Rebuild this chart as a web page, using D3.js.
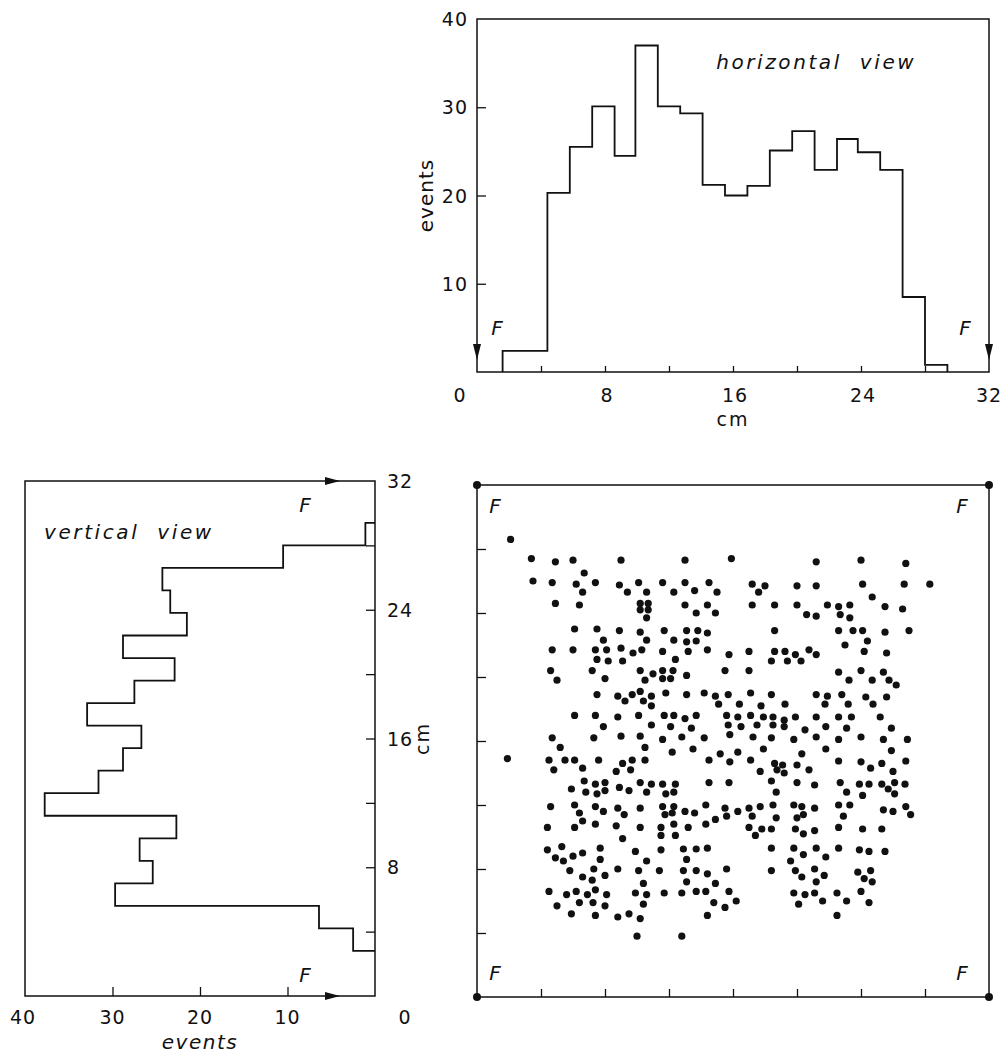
<!DOCTYPE html>
<html>
<head>
<meta charset="utf-8">
<script src="https://cdn.jsdelivr.net/npm/d3@7"></script>
<style>
  body { margin: 0; background: #fff; }
  svg text { font-family: "DejaVu Sans", sans-serif; fill: #111; }
</style>
</head>
<body>
<div id="chart"></div>
<script>
// horizontal view: bin edges (cm) and events per bin
var hEdges = [1.6, 3.0, 4.4, 5.8, 7.2, 8.6, 9.9, 11.3, 12.7, 14.1, 15.5, 16.9, 18.3, 19.7, 21.1, 22.5, 23.8, 25.2, 26.6, 28.0, 29.4];
var hCounts = [2.4, 2.4, 20.3, 25.5, 30.1, 24.5, 37.0, 30.1, 29.3, 21.2, 20.0, 21.1, 25.1, 27.3, 22.9, 26.4, 24.9, 22.9, 8.5, 0.8];

// vertical view: bin edges (cm, bottom to top) and events per bin
var vEdges = [2.8, 4.2, 5.6, 7.0, 8.4, 9.8, 11.2, 12.6, 14.0, 15.4, 16.8, 18.2, 19.6, 21.0, 22.4, 23.8, 25.2, 26.6, 28.0, 29.4];
var vCounts = [2.5, 6.4, 29.7, 25.4, 26.9, 22.7, 37.75, 31.6, 28.8, 26.7, 32.9, 27.5, 22.9, 28.8, 21.5, 23.4, 24.3, 10.5, 1.1];

// tick values / labels
var cmLabels = [0, 8, 16, 24, 32];
var cmMinor = [4, 8, 12, 16, 20, 24, 28];
var eventLabels = [10, 20, 30, 40];
var vEventLabels = [40, 30, 20, 10, 0];
var vEventTicks = [10, 20, 30];

// event positions in the chamber, [x cm, y cm]
var events = [
  [2.1,28.6],[3.4,27.4],[4.9,27.2],[6.0,27.3],[9.0,27.3],[6.7,26.5],[3.5,26.0],[4.7,25.9],[6.2,25.8],[7.4,25.9],[8.9,25.75],[10.1,25.9],[6.6,25.3],[9.4,25.3],[10.6,25.3],[4.9,24.6],[6.4,24.5],[10.2,24.6],[10.7,24.6],[10.2,24.2],[10.7,24.2],[10.6,23.7],[6.1,23.0],[7.5,23.0],[8.9,22.9],[10.2,22.8],[10.6,22.3],[7.9,22.3],[4.7,21.7],[6.0,21.7],[7.4,21.7],[8.1,21.7],[9.0,21.8],[9.75,21.5],[10.3,21.7],[7.5,21.1],[8.2,21.0],[9.1,21.0],[4.6,20.4],[5.0,19.8],[7.2,20.4],[8.0,19.9],[10.2,20.4],[10.5,19.8],[7.5,18.9],[8.8,18.8],[9.25,18.5],[9.7,18.9],[10.2,19.1],[10.4,18.5],[6.1,17.6],[7.4,17.6],[8.8,17.5],[10.1,17.6],[7.9,16.9],[4.7,16.2],[7.3,16.2],[9.0,16.3],[10.2,16.3],
  [13.0,27.3],[15.9,27.4],[21.2,27.2],[11.6,25.9],[13.0,25.9],[14.5,25.9],[17.2,25.8],[18.0,25.7],[20.0,25.7],[21.2,25.7],[12.3,25.3],[13.6,25.4],[15.0,25.3],[17.6,25.3],[13.0,24.5],[14.4,24.5],[17.2,24.5],[18.6,24.5],[20.0,24.5],[13.7,24.0],[14.9,24.0],[20.6,23.9],[21.2,23.8],[11.7,22.9],[13.1,22.9],[13.8,22.9],[14.4,22.75],[18.6,22.9],[12.3,22.3],[13.1,22.2],[13.7,22.25],[11.6,21.6],[13.2,21.6],[14.4,21.7],[15.75,21.4],[17.0,21.6],[18.6,21.6],[19.25,21.6],[19.9,21.4],[20.75,21.7],[21.2,21.4],[12.4,21.1],[18.4,21.0],[19.4,21.0],[20.25,21.0],[11.0,20.2],[11.6,20.4],[12.25,20.4],[11.6,19.9],[12.1,19.9],[13.1,20.1],[15.5,20.4],[17.0,20.4],[10.9,18.8],[10.9,18.2],[11.8,19.0],[13.1,18.9],[14.2,19.0],[14.9,18.8],[15.7,18.9],[17.1,19.0],[18.4,18.9],[15.1,18.3],[16.4,18.3],[17.75,18.2],[19.25,18.3],[21.2,18.9],[11.7,17.6],[12.3,17.6],[13.0,17.4],[13.7,17.6],[15.6,17.6],[16.3,17.5],[17.1,17.6],[17.9,17.5],[18.5,17.5],[19.2,17.3],[19.9,17.5],[21.2,17.5],[10.9,17.0],[12.1,16.9],[13.4,16.8],[15.7,17.0],[16.5,16.9],[17.5,17.0],[18.5,17.0],[19.2,16.9],[20.5,16.7],[11.6,16.1],[12.8,16.25],[14.2,16.2],[15.8,16.4],[17.25,16.25],[18.4,16.2],[19.8,16.1],[21.2,16.25],
  [24.0,27.3],[26.8,27.1],[24.1,25.8],[26.7,25.8],[28.3,25.8],[24.7,25.0],[21.9,24.5],[22.6,24.4],[23.3,24.5],[22.7,23.9],[23.3,23.7],[25.5,24.4],[26.6,24.25],[22.6,22.9],[23.5,22.9],[24.1,22.9],[25.5,22.8],[27.0,22.9],[24.4,22.25],[23.0,22.0],[24.2,21.6],[25.6,21.5],[22.6,20.3],[23.25,19.8],[24.0,20.4],[24.7,19.8],[25.4,20.3],[25.75,19.8],[26.2,19.5],[21.9,18.8],[21.75,18.3],[22.8,18.9],[23.2,18.3],[24.3,18.75],[24.75,18.3],[25.6,18.75],[21.8,16.9],[22.6,17.5],[23.4,17.5],[23.1,16.8],[25.2,17.5],[25.9,16.8],[22.6,16.1],[24.0,16.25],[25.4,16.1],[26.9,16.1],
  [5.2,15.6],[10.5,15.6],[1.9,14.9],[4.5,14.8],[5.5,14.8],[6.1,14.8],[7.6,14.8],[9.1,14.6],[9.7,14.8],[10.5,14.8],[4.8,14.2],[6.6,14.3],[8.7,14.1],[9.6,14.2],[6.7,13.5],[7.4,13.3],[8.0,13.4],[5.9,13.0],[6.8,12.8],[7.5,12.7],[8.0,12.9],[8.9,13.1],[9.5,12.9],[10.2,13.4],[10.6,12.8],[4.6,11.9],[6.1,12.0],[6.4,11.5],[7.4,11.9],[7.9,11.6],[8.8,11.8],[9.2,11.4],[10.2,11.8],[4.4,10.6],[6.1,10.6],[6.6,11.0],[7.4,10.8],[8.7,10.7],[10.2,10.6],[9.1,9.9],[4.4,9.2],[5.3,9.4],[4.9,8.7],[5.4,8.5],[6.0,8.8],[6.6,9.0],[7.7,9.3],[7.7,8.6],[9.9,9.1],[10.6,8.5],[5.8,7.9],[7.3,8.0],[8.8,8.0],[10.1,7.9],[6.6,7.5],[7.2,7.3],[8.0,7.6],[10.4,7.1],[4.5,6.6],[5.6,6.4],[6.2,6.6],[6.9,6.4],[7.4,6.7],[8.1,6.4],[9.9,6.5],[10.6,6.4],[5.0,5.7],[6.4,5.9],[7.25,5.9],[8.0,5.7],[10.4,5.8],[5.9,5.2],[7.4,5.1],[8.8,5.0],[9.5,5.2],[10.2,4.9],[10.0,3.8],
  [12.2,15.3],[13.5,15.5],[15.2,15.2],[16.3,15.3],[17.9,15.5],[20.3,15.2],[14.5,14.8],[15.8,14.7],[17.1,14.8],[17.7,14.1],[18.6,14.6],[19.1,14.5],[18.75,14.2],[19.2,14.0],[20.0,14.5],[20.75,14.2],[10.9,13.3],[11.6,13.3],[12.4,13.3],[11.8,12.7],[12.3,12.8],[14.5,13.4],[15.75,13.4],[18.4,13.5],[18.7,12.8],[20.0,13.4],[21.1,13.25],[11.6,11.9],[12.3,11.9],[11.75,11.4],[12.2,11.5],[13.0,11.6],[13.6,11.5],[14.3,12.0],[14.9,11.1],[15.5,11.8],[15.6,11.3],[16.3,11.6],[17.0,11.8],[17.2,11.3],[17.7,11.9],[18.5,12.0],[18.7,11.2],[19.8,12.0],[20.3,11.9],[20.0,11.2],[20.4,11.4],[21.1,11.8],[11.5,10.6],[11.5,10.1],[12.3,10.8],[12.4,10.1],[13.2,10.6],[14.3,10.8],[17.0,10.6],[17.8,10.5],[17.4,10.1],[18.4,10.5],[19.9,10.5],[20.4,10.2],[21.1,10.4],[11.5,9.2],[12.9,9.25],[13.7,9.25],[14.4,9.3],[13.1,8.6],[18.4,9.3],[19.8,9.3],[19.6,8.5],[20.4,8.9],[21.2,9.3],[11.4,7.9],[12.9,7.9],[13.7,7.9],[14.4,7.7],[15.6,8.0],[18.4,7.9],[19.9,7.9],[21.1,8.0],[13.1,7.2],[14.9,7.1],[20.3,7.5],[21.2,7.2],[11.7,6.5],[12.8,6.5],[13.7,6.6],[14.3,6.6],[15.75,6.6],[14.8,5.9],[15.5,5.6],[16.2,6.0],[14.4,5.1],[19.8,6.5],[20.5,6.4],[21.1,6.5],[20.1,5.8],[12.8,3.8],
  [21.8,15.5],[25.9,15.4],[22.6,14.75],[24.0,14.7],[24.6,14.3],[25.3,14.6],[26.0,14.1],[26.8,14.75],[22.7,13.4],[23.1,12.8],[23.9,13.3],[24.1,12.6],[24.5,13.3],[25.3,13.3],[25.7,13.0],[26.1,13.4],[26.1,12.7],[26.75,13.3],[22.6,12.0],[23.3,12.0],[22.9,11.3],[25.4,11.7],[26.0,11.6],[26.8,11.9],[27.1,11.4],[22.6,10.6],[24.1,10.5],[25.3,10.5],[22.6,9.3],[23.9,9.2],[24.5,9.1],[25.5,9.1],[21.8,8.75],[21.7,7.6],[23.8,7.8],[24.6,7.9],[24.2,7.4],[24.7,7.2],[24.0,6.6],[22.5,6.5],[23.1,6.0],[24.5,5.9],[21.6,6.0],[22.5,5.1]
];

var svgWidth = 1002, svgHeight = 1057;
var svg = d3.select("#chart").append("svg").attr("width", svgWidth).attr("height", svgHeight);

var ink = "#111";
var lineW = 1.8;

// ---------- top: horizontal view ----------
var hBox = {left: 477, right: 989, top: 19, bottom: 372};
var xH = d3.scaleLinear().domain([0, 32]).range([hBox.left, hBox.right]);
var yH = d3.scaleLinear().domain([0, 40]).range([hBox.bottom, hBox.top]);

var topG = svg.append("g");
topG.append("rect")
  .attr("x", hBox.left).attr("y", hBox.top)
  .attr("width", hBox.right - hBox.left).attr("height", hBox.bottom - hBox.top)
  .attr("fill", "none").attr("stroke", ink).attr("stroke-width", 1.5);

topG.append("g")
  .attr("transform", `translate(0, ${hBox.bottom})`)
  .call(d3.axisBottom(xH).tickValues(cmMinor).tickSize(-6).tickFormat(""))
  .call(g => g.select(".domain").remove())
  .selectAll("line").attr("stroke", ink).attr("stroke-width", 1.3);

topG.append("g")
  .attr("transform", `translate(${hBox.left}, 0)`)
  .call(d3.axisLeft(yH).tickValues([10, 20, 30]).tickSize(-9).tickFormat(""))
  .call(g => g.select(".domain").remove())
  .selectAll("line").attr("stroke", ink).attr("stroke-width", 1.3);

// step outline
var hp = d3.path();
hp.moveTo(xH(hEdges[0]), yH(0));
hCounts.forEach(function (c, i) {
  hp.lineTo(xH(hEdges[i]), yH(c));
  hp.lineTo(xH(hEdges[i + 1]), yH(c));
});
hp.lineTo(xH(hEdges[hEdges.length - 1]), yH(0));
topG.append("path").attr("d", hp.toString())
  .attr("fill", "none").attr("stroke", ink).attr("stroke-width", lineW);

// tick labels
topG.selectAll("text.xl").data(cmLabels).enter().append("text")
  .attr("x", d => xH(d) + (d === 0 ? -17 : (d === 32 ? 0 : 2)))
  .attr("y", hBox.bottom + 30)
  .attr("text-anchor", "middle").attr("font-size", 19).attr("letter-spacing", 1)
  .text(d => d);
topG.selectAll("text.yl").data(eventLabels).enter().append("text")
  .attr("x", hBox.left - 9)
  .attr("y", d => yH(d) + 7)
  .attr("text-anchor", "end").attr("font-size", 19).attr("letter-spacing", 1)
  .text(d => d);

topG.append("text")
  .attr("transform", `translate(${hBox.left - 44}, ${yH(20)}) rotate(-90)`)
  .attr("text-anchor", "middle").attr("font-size", 20).attr("letter-spacing", 1)
  .text("events");
topG.append("text")
  .attr("x", xH(16)).attr("y", hBox.bottom + 54)
  .attr("text-anchor", "middle").attr("font-size", 19).attr("letter-spacing", 2)
  .text("cm");
topG.append("text")
  .attr("x", xH(21.2)).attr("y", 69)
  .attr("text-anchor", "middle").attr("font-size", 20)
  .attr("font-style", "italic").attr("letter-spacing", 2.6)
  .attr("xml:space", "preserve")
  .text("horizontal  view");

// F markers with down arrows at both ends
[0, 32].forEach(function (c) {
  var tx = xH(c), ty = yH(0) - 12;
  topG.append("path")
    .attr("d", `M${tx},${ty} L${tx - 4},${ty - 16} L${tx + 4},${ty - 16} Z`)
    .attr("fill", ink);
  topG.append("text")
    .attr("x", c === 0 ? tx + 20 : tx - 24).attr("y", yH(0) - 37)
    .attr("text-anchor", "middle").attr("font-size", 20)
    .attr("font-style", "italic").text("F");
});

// ---------- bottom left: vertical view ----------
var vBox = {left: 25, right: 375, top: 481, bottom: 996};
var xV = d3.scaleLinear().domain([40, 0]).range([vBox.left, vBox.right]);
var yV = d3.scaleLinear().domain([0, 32]).range([vBox.bottom, vBox.top]);

var leftG = svg.append("g");
leftG.append("rect")
  .attr("x", vBox.left).attr("y", vBox.top)
  .attr("width", vBox.right - vBox.left).attr("height", vBox.bottom - vBox.top)
  .attr("fill", "none").attr("stroke", ink).attr("stroke-width", 1.5);

leftG.append("g")
  .attr("transform", `translate(0, ${vBox.bottom})`)
  .call(d3.axisBottom(xV).tickValues(vEventTicks).tickSize(-9).tickFormat(""))
  .call(g => g.select(".domain").remove())
  .selectAll("line").attr("stroke", ink).attr("stroke-width", 1.3);

leftG.append("g")
  .attr("transform", `translate(${vBox.right}, 0)`)
  .call(d3.axisRight(yV).tickValues(cmMinor).tickSize(-9).tickFormat(""))
  .call(g => g.select(".domain").remove())
  .selectAll("line").attr("stroke", ink).attr("stroke-width", 1.3);

var vp = d3.path();
vp.moveTo(xV(0), yV(vEdges[0]));
vCounts.forEach(function (c, i) {
  vp.lineTo(xV(c), yV(vEdges[i]));
  vp.lineTo(xV(c), yV(vEdges[i + 1]));
});
vp.lineTo(xV(0), yV(vEdges[vEdges.length - 1]));
leftG.append("path").attr("d", vp.toString())
  .attr("fill", "none").attr("stroke", ink).attr("stroke-width", lineW);

leftG.selectAll("text.xl").data(vEventLabels).enter().append("text")
  .attr("x", d => xV(d) + (d === 0 ? 30 : (d === 40 ? -2 : 0)))
  .attr("y", vBox.bottom + 28)
  .attr("text-anchor", "middle").attr("font-size", 19).attr("letter-spacing", 1)
  .text(d => d);
leftG.selectAll("text.yl").data([8, 16, 24, 32]).enter().append("text")
  .attr("x", vBox.right + 12)
  .attr("y", d => yV(d) + 7)
  .attr("text-anchor", "start").attr("font-size", 19).attr("letter-spacing", 1)
  .text(d => d);

leftG.append("text")
  .attr("x", xV(20)).attr("y", vBox.bottom + 53)
  .attr("text-anchor", "middle").attr("font-size", 20)
  .attr("font-style", "italic").attr("letter-spacing", 1.5)
  .text("events");
leftG.append("text")
  .attr("transform", `translate(${vBox.right + 54}, ${yV(16)}) rotate(-90)`)
  .attr("text-anchor", "middle").attr("font-size", 19).attr("letter-spacing", 2)
  .text("cm");
leftG.append("text")
  .attr("x", 44).attr("y", 539)
  .attr("font-size", 20).attr("font-style", "italic").attr("letter-spacing", 2.6)
  .attr("xml:space", "preserve")
  .text("vertical  view");

[0, 32].forEach(function (c) {
  var ty = yV(c), tx = xV(4);
  leftG.append("path")
    .attr("d", `M${tx},${ty} L${tx - 15},${ty - 4} L${tx - 15},${ty + 4} Z`)
    .attr("fill", ink);
  leftG.append("text")
    .attr("x", xV(8)).attr("y", c === 32 ? ty + 31 : ty - 14)
    .attr("text-anchor", "middle").attr("font-size", 20)
    .attr("font-style", "italic").text("F");
});

// ---------- bottom right: event map ----------
var sBox = {left: 477, right: 989, top: 485, bottom: 997};
var xS = d3.scaleLinear().domain([0, 32]).range([sBox.left, sBox.right]);
var yS = d3.scaleLinear().domain([0, 32]).range([sBox.bottom, sBox.top]);

var mapG = svg.append("g");
mapG.append("rect")
  .attr("x", sBox.left).attr("y", sBox.top)
  .attr("width", sBox.right - sBox.left).attr("height", sBox.bottom - sBox.top)
  .attr("fill", "none").attr("stroke", ink).attr("stroke-width", 1.5);

mapG.append("g")
  .attr("transform", `translate(0, ${sBox.bottom})`)
  .call(d3.axisBottom(xS).tickValues(cmMinor).tickSize(-8).tickFormat(""))
  .call(g => g.select(".domain").remove())
  .selectAll("line").attr("stroke", ink).attr("stroke-width", 1.3);
mapG.append("g")
  .attr("transform", `translate(${sBox.left}, 0)`)
  .call(d3.axisLeft(yS).tickValues(cmMinor).tickSize(-9).tickFormat(""))
  .call(g => g.select(".domain").remove())
  .selectAll("line").attr("stroke", ink).attr("stroke-width", 1.3);

// corner points
var corners = [[0, 0], [0, 32], [32, 0], [32, 32]];
mapG.selectAll("circle.corner").data(corners).enter().append("circle")
  .attr("cx", d => xS(d[0])).attr("cy", d => yS(d[1])).attr("r", 4).attr("fill", ink);

mapG.selectAll("circle.ev").data(events).enter().append("circle")
  .attr("cx", d => xS(d[0]))
  .attr("cy", d => yS(d[1]))
  .attr("r", 3.6)
  .attr("fill", ink);

corners.forEach(function (d) {
  mapG.append("text")
    .attr("x", xS(d[0]) + (d[0] === 0 ? 18 : -27))
    .attr("y", yS(d[1]) + (d[1] === 0 ? -17 : 28))
    .attr("text-anchor", "middle").attr("font-size", 20)
    .attr("font-style", "italic").text("F");
});
</script>
</body>
</html>
